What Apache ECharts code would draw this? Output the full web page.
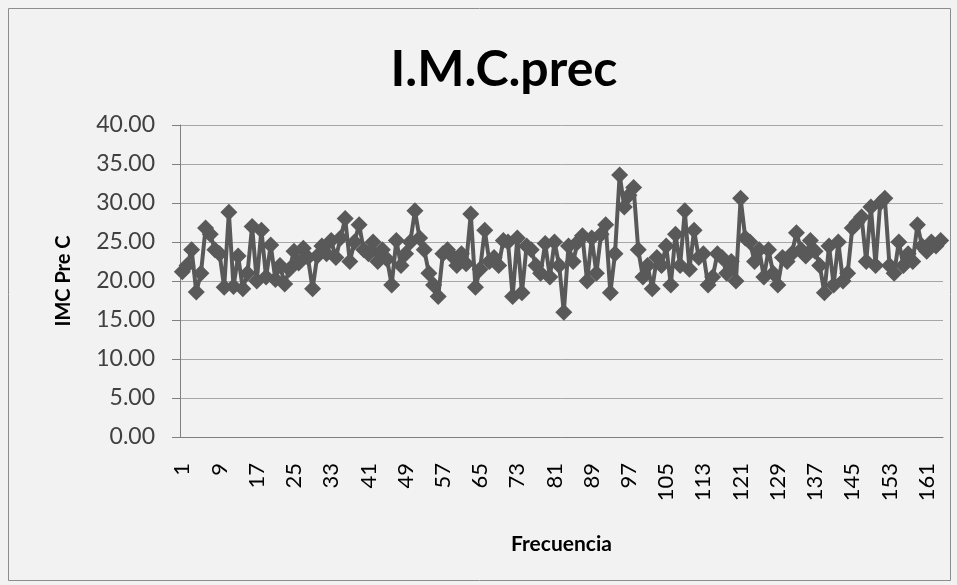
<!DOCTYPE html>
<html>
<head>
<meta charset="utf-8">
<script src="https://cdn.jsdelivr.net/npm/echarts@6/dist/echarts.min.js"></script>
<style>
  html, body { margin: 0; padding: 0; background: #f2f2f2; }
  #chart { width: 957px; height: 585px; }
</style>
</head>
<body>
<div id="chart"></div>
<script>
// frecuencia 1..164
var categories = [];
for (var i = 1; i <= 164; i++) categories.push(String(i));

// IMC Pre C
var imcValues = [
  21.2, 22.0, 24.0, 18.6, 21.0, 26.8, 26.0, 24.0, 23.5, 19.2,
  28.8, 19.3, 23.2, 19.0, 21.0, 27.0, 20.0, 26.5, 20.5, 24.6,
  20.2, 22.0, 19.6, 21.5, 23.8, 22.3, 24.2, 23.0, 19.0, 23.2,
  24.5, 23.5, 25.2, 23.0, 25.5, 28.0, 22.5, 25.0, 27.2, 24.0,
  23.5, 25.0, 22.5, 24.0, 22.8, 19.5, 25.2, 22.0, 23.5, 25.0,
  29.0, 25.5, 24.0, 21.0, 19.5, 18.0, 23.5, 24.0, 23.2, 22.0,
  23.5, 22.2, 28.6, 19.2, 21.5, 26.5, 22.5, 23.0, 22.0, 25.2,
  25.0, 18.0, 25.5, 18.5, 24.5, 24.0, 22.0, 21.0, 24.8, 20.5,
  25.0, 22.0, 16.0, 24.5, 22.5, 25.0, 25.8, 20.0, 25.5, 21.0,
  26.0, 27.2, 18.5, 23.5, 33.6, 29.5, 31.0, 32.0, 24.0, 20.5,
  22.0, 19.0, 23.0, 22.0, 24.5, 19.5, 26.0, 22.0, 29.0, 21.5,
  26.5, 23.0, 23.5, 19.5, 20.5, 23.5, 23.0, 21.0, 22.5, 20.0,
  30.6, 25.5, 25.0, 22.5, 24.0, 20.5, 24.0, 21.0, 19.5, 23.0,
  22.5, 23.5, 26.2, 24.0, 23.2, 25.2, 23.8, 22.0, 18.5, 24.5,
  19.5, 25.0, 20.0, 21.0, 26.8, 27.5, 28.2, 22.5, 29.5, 22.0,
  30.0, 30.6, 22.0, 21.0, 25.0, 22.0, 23.5, 22.5, 27.2, 24.5,
  23.8, 25.0, 24.5, 25.2
];

var myChart = echarts.init(document.getElementById('chart'));

var option = {
  backgroundColor: '#f2f2f2',
  animation: false,
  title: {
    text: 'I.M.C.prec',
    left: 499,
    top: 40,
    textAlign: 'center',
    textStyle: {
      fontFamily: 'Lato',
      fontSize: 50,
      fontWeight: 'bold',
      color: '#000'
    }
  },
  graphic: [{
    type: 'rect',
    shape: { x: 8.5, y: 8.5, width: 942, height: 572 },
    style: { fill: 'none', stroke: '#8c8c8c', lineWidth: 1 },
    silent: true
  }],
  grid: {
    left: 180,
    right: 14,
    top: 125,
    bottom: 148
  },
  xAxis: {
    type: 'category',
    data: categories,
    boundaryGap: true,
    name: 'Frecuencia',
    nameLocation: 'middle',
    nameGap: 97,
    nameTextStyle: {
      fontFamily: 'Lato',
      fontSize: 21,
      fontWeight: 'bold',
      color: '#000'
    },
    axisLine: { lineStyle: { color: '#808080', width: 1 } },
    axisTick: { show: false },
    axisLabel: {
      interval: 7,
      rotate: 90,
      margin: 26,
      fontFamily: 'Lato',
      fontSize: 22,
      color: '#000'
    },
    splitLine: { show: false }
  },
  yAxis: {
    type: 'value',
    min: 0,
    max: 40,
    interval: 5,
    name: 'IMC Pre C',
    nameLocation: 'middle',
    nameGap: 106,
    nameTextStyle: {
      fontFamily: 'Lato',
      fontSize: 20,
      fontWeight: 'bold',
      color: '#000'
    },
    axisLine: { show: true, lineStyle: { color: '#808080', width: 1 } },
    axisTick: { show: true, length: 8, inside: false, lineStyle: { color: '#808080' } },
    axisLabel: {
      margin: 25,
      fontFamily: 'Lato',
      fontSize: 23,
      color: '#404040',
      formatter: function (v) { return v.toFixed(2); }
    },
    splitLine: { lineStyle: { color: '#a6a6a6', width: 1 } }
  },
  series: [{
    name: 'IMC Pre C',
    type: 'line',
    data: imcValues,
    symbol: 'diamond',
    symbolSize: 17,
    showAllSymbol: true,
    itemStyle: { color: '#595959' },
    lineStyle: { color: '#595959', width: 4 }
  }]
};

myChart.setOption(option);
</script>
</body>
</html>
